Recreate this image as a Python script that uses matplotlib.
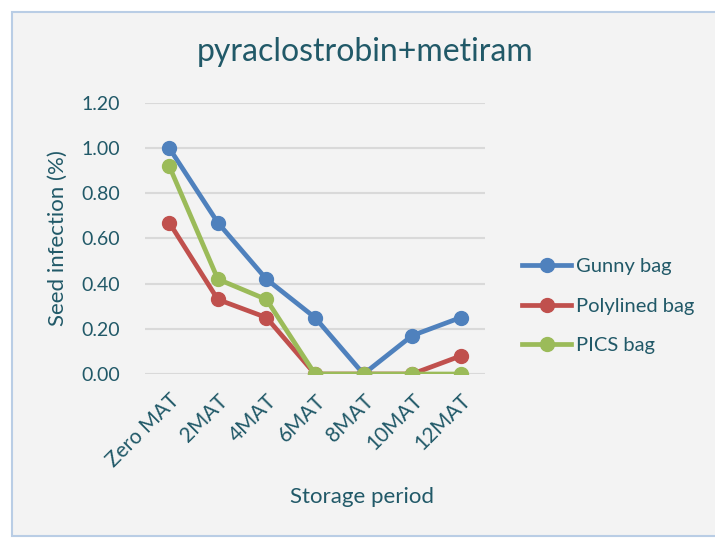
import matplotlib.pyplot as plt
from matplotlib.patches import Rectangle

plt.rcParams['font.family'] = ['Lato', 'DejaVu Sans']

periods = ["Zero MAT", "2MAT", "4MAT", "6MAT", "8MAT", "10MAT", "12MAT"]
gunny = [1.00, 0.67, 0.42, 0.25, 0.00, 0.17, 0.25]
polylined = [0.67, 0.33, 0.25, 0.00, 0.00, 0.00, 0.08]
pics = [0.92, 0.42, 0.33, 0.00, 0.00, 0.00, 0.00]
yticks = [0.0, 0.2, 0.4, 0.6, 0.8, 1.0, 1.2]

txt = '#215968'

fig = plt.figure(figsize=(7.15, 5.38), dpi=100)
fig.patch.set_facecolor('white')
# chart area background + border
fig.patches.append(Rectangle((0.0168, 0.0037), 0.995, 0.974, transform=fig.transFigure,
                             facecolor='#F3F3F3', edgecolor='#B9CDE5', linewidth=1.5,
                             zorder=-1))

ax = fig.add_axes([0.2028, 0.3048, 0.4755, 0.5038])
ax.set_facecolor('none')
ax.set_zorder(2)

x = list(range(len(periods)))
ax.plot(x, gunny, color='#4F81BD', lw=3.4, marker='o', ms=10, label='Gunny bag', zorder=3)
ax.plot(x, polylined, color='#C0504D', lw=3.4, marker='o', ms=10, label='Polylined bag', zorder=4)
ax.plot(x, pics, color='#9BBB59', lw=3.4, marker='o', ms=10, label='PICS bag', zorder=5)

ax.set_xlim(-0.5, len(periods) - 0.5)
ax.set_ylim(0, 1.2)
ax.set_yticks(yticks)
ax.set_yticklabels([f"{v:.2f}" for v in yticks], color=txt, fontsize=14)
ax.set_xticks(x)
ax.set_xticklabels(periods, rotation=45, ha='right', rotation_mode='anchor',
                   color=txt, fontsize=15)
ax.tick_params(length=0, pad=18, axis='y')
ax.tick_params(length=0, pad=12, axis='x')
ax.grid(axis='y', color='#D9D9D9', lw=1.5)
ax.set_axisbelow(True)
for s in ax.spines.values():
    s.set_visible(False)

ax.set_ylabel("Seed infection (%)", color=txt, fontsize=16, labelpad=10)
fig.text(0.506, 0.076, "Storage period", color=txt, fontsize=16, ha='center', va='center')
fig.text(0.51, 0.903, "pyraclostrobin+metiram", color=txt, fontsize=23, ha='center', va='center')

leg = ax.legend(loc='center left', bbox_to_anchor=(1.109, 0.25), frameon=False,
                fontsize=14.5, labelcolor=txt, handlelength=2.45, handletextpad=0.25,
                labelspacing=1.12, borderaxespad=0, borderpad=0)

fig.savefig('out.png', dpi=100)
